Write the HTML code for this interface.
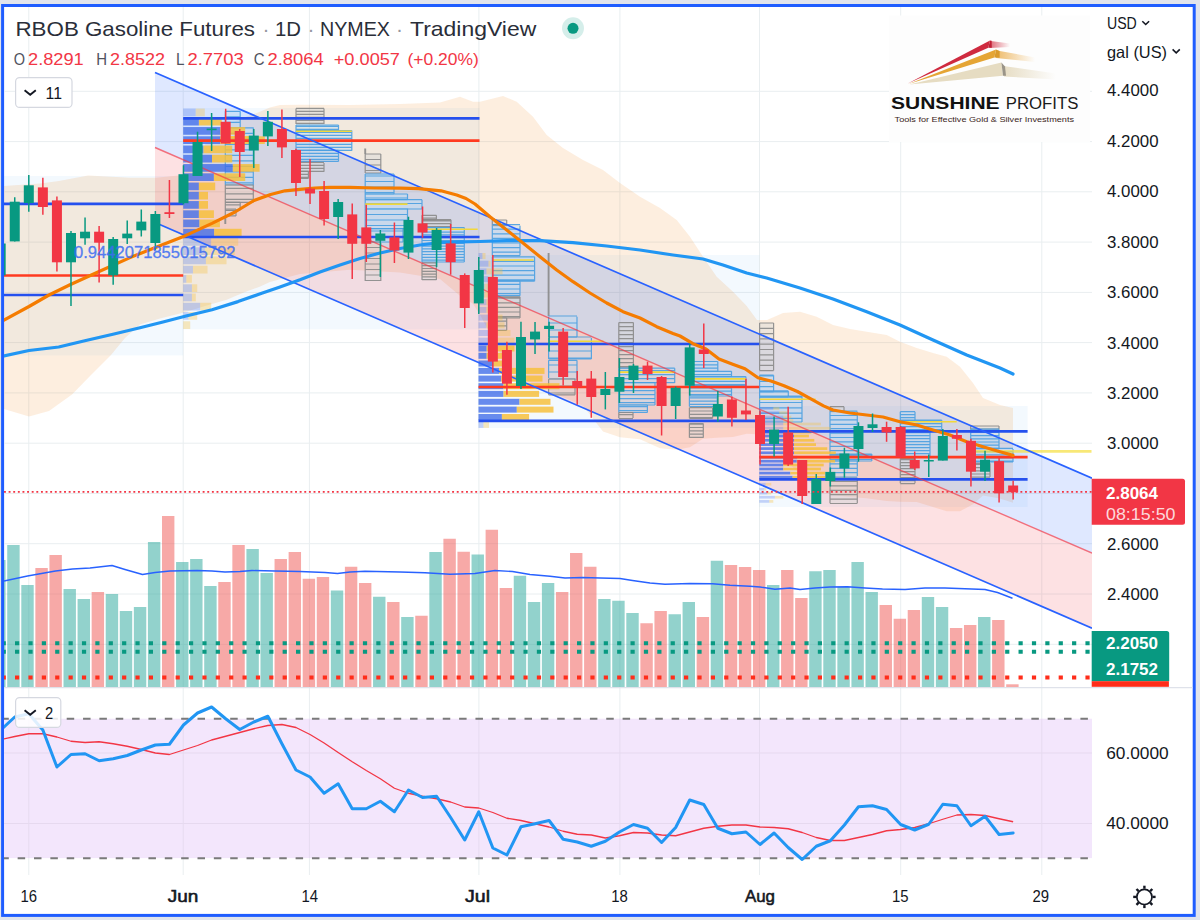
<!DOCTYPE html>
<html><head><meta charset="utf-8"><title>RBOB Gasoline Futures</title>
<style>
html,body{margin:0;padding:0;background:#e1e4ec;}
body{width:1200px;height:920px;overflow:hidden;position:relative;font-family:"Liberation Sans",sans-serif;}
svg{position:absolute;left:0;top:0;display:block}
text{font-family:"Liberation Sans",sans-serif;}
</style></head><body>
<svg width="1200" height="920" viewBox="0 0 1200 920" font-family="Liberation Sans, sans-serif">
<rect x="0" y="0" width="1200" height="920" fill="#e1e4ec"/>
<rect x="2.6" y="5.5" width="1191.6" height="909.9" fill="#ffffff" stroke="#1f5dff" stroke-width="3"/>
<defs>
<clipPath id="plot"><rect x="4" y="7" width="1088" height="680.5"/></clipPath>
<clipPath id="rsi"><rect x="4" y="688" width="1088" height="187"/></clipPath>
<linearGradient id="fadeR" x1="0" x2="1" y1="0" y2="0"><stop offset="0" stop-color="#d0283c" stop-opacity="0.7"/><stop offset="1" stop-color="#d0283c" stop-opacity="0"/></linearGradient>
<linearGradient id="fadeO" x1="0" x2="1" y1="0" y2="0"><stop offset="0" stop-color="#e9a53a" stop-opacity="0.75"/><stop offset="1" stop-color="#e9a53a" stop-opacity="0"/></linearGradient>
<linearGradient id="fadeC" x1="0" x2="1" y1="0" y2="0"><stop offset="0" stop-color="#e4d9bd" stop-opacity="0.9"/><stop offset="1" stop-color="#e4d9bd" stop-opacity="0"/></linearGradient>
</defs>
<line x1="28.8" y1="7" x2="28.8" y2="875" stroke="#e9eef0" stroke-width="1"/>
<line x1="183.2" y1="7" x2="183.2" y2="875" stroke="#e9eef0" stroke-width="1"/>
<line x1="309.4" y1="7" x2="309.4" y2="875" stroke="#e9eef0" stroke-width="1"/>
<line x1="478.9" y1="7" x2="478.9" y2="875" stroke="#e9eef0" stroke-width="1"/>
<line x1="619.9" y1="7" x2="619.9" y2="875" stroke="#e9eef0" stroke-width="1"/>
<line x1="759.5" y1="7" x2="759.5" y2="875" stroke="#e9eef0" stroke-width="1"/>
<line x1="900.7" y1="7" x2="900.7" y2="875" stroke="#e9eef0" stroke-width="1"/>
<line x1="1041.8" y1="7" x2="1041.8" y2="875" stroke="#e9eef0" stroke-width="1"/>
<line x1="4" y1="91.3" x2="1092" y2="91.3" stroke="#e9eef0" stroke-width="1"/>
<line x1="4" y1="141.6" x2="1092" y2="141.6" stroke="#e9eef0" stroke-width="1"/>
<line x1="4" y1="191.8" x2="1092" y2="191.8" stroke="#e9eef0" stroke-width="1"/>
<line x1="4" y1="242.1" x2="1092" y2="242.1" stroke="#e9eef0" stroke-width="1"/>
<line x1="4" y1="292.4" x2="1092" y2="292.4" stroke="#e9eef0" stroke-width="1"/>
<line x1="4" y1="342.6" x2="1092" y2="342.6" stroke="#e9eef0" stroke-width="1"/>
<line x1="4" y1="392.9" x2="1092" y2="392.9" stroke="#e9eef0" stroke-width="1"/>
<line x1="4" y1="443.2" x2="1092" y2="443.2" stroke="#e9eef0" stroke-width="1"/>
<line x1="4" y1="493.5" x2="1092" y2="493.5" stroke="#e9eef0" stroke-width="1"/>
<line x1="4" y1="543.7" x2="1092" y2="543.7" stroke="#e9eef0" stroke-width="1"/>
<line x1="4" y1="594" x2="1092" y2="594" stroke="#e9eef0" stroke-width="1"/>
<line x1="4" y1="644.3" x2="1092" y2="644.3" stroke="#e9eef0" stroke-width="1"/>
<line x1="4" y1="753" x2="1092" y2="753" stroke="#e9eef0" stroke-width="1"/>
<line x1="4" y1="823.5" x2="1092" y2="823.5" stroke="#e9eef0" stroke-width="1"/>
<g clip-path="url(#plot)">
<rect x="4" y="176" width="179.2" height="179.4" fill="#2196f3" fill-opacity="0.055"/>
<rect x="183.2" y="108" width="296.3" height="221.3" fill="#2196f3" fill-opacity="0.055"/>
<rect x="478.5" y="255" width="280.8" height="173" fill="#2196f3" fill-opacity="0.055"/>
<rect x="759.3" y="406" width="268.3" height="101" fill="#2196f3" fill-opacity="0.055"/>
<polygon points="4,186 40,183.5 59,181 88,175.4 130,177.7 156.5,177.7 183,175 195,158 210,138 225,126 240,119 256.7,113 270,107.5 280,105 300,104.7 350,105 400,104 440,102.5 460,96.7 473,101.7 480,101.7 503,96 516.7,101.7 533,116.7 546.7,135 563,148 583,160 603,170 620,183 640,196.7 660,208 676.7,220 690,236.7 703,256.7 716.7,276.7 733,291.7 746.7,306 757,320 767,320 783,313 800,311.7 816.7,316.7 833,325 850,329 866.7,331.7 886.7,335 900,341.7 916.7,348 933,353 946.7,356.7 960,366.7 973,383 983,398 1000,405 1013,408 1013,502.8 1000,498.4 983,495.4 973,504.27 960,511.32 946.7,511.36 933,507 916.7,502 900,501.7 886.7,501.05 866.7,498.3 850,497 833,495 816.7,487.63 800,474.18 783,457.68 767,440.03 757,434.2 746.7,433.78 733,437.02 716.7,437.76 703,438.85 690,447.15 676.7,449.64 660,448.15 640,439.3 620,437.2 603,431.57 583,405.68 563,397.02 546.7,389.07 533,384.04 516.7,374.25 503,358.11 480,314.77 473,303.86 460,295.78 440,278.9 400,272.4 350,269.8 300,273.9 280,279.17 270,281.93 259,287 245,292 226.7,299.8 205,306 183,312.8 160,318.5 140,324.5 125,338 111,355 91,375 72,394.5 49,411 29,416.5 4,409" fill="#f28c28" fill-opacity="0.15"/>
<polygon points="155,72.5 1092,478.13 1092,553.13 155,147.5" fill="#2962ff" fill-opacity="0.15"/>
<polygon points="155,147.5 1092,553.13 1092,628.13 155,222.5" fill="#f23645" fill-opacity="0.15"/>
<rect x="225.3" y="111.3" width="14.9" height="16.3" fill="#bcdcf5" fill-opacity="0.45"/>
<path d="M225.3 111.3H240.2M225.3 116.8H240.2M225.3 122.3H240.2M225.3 127.8H240.2M225.3 111.3V127.6M240.2 111.3V127.6" stroke="#4a9fe0" stroke-width="1.2" fill="none" stroke-opacity="0.9"/>
<rect x="225.3" y="127.6" width="28" height="57.4" fill="#bcdcf5" fill-opacity="0.45"/>
<path d="M225.3 127.8H253.3M225.3 133.3H253.3M225.3 138.8H253.3M225.3 144.3H253.3M225.3 149.8H253.3M225.3 155.3H253.3M225.3 160.8H253.3M225.3 166.3H253.3M225.3 171.8H253.3M225.3 177.3H253.3M225.3 182.8H253.3M225.3 185H253.3M225.3 127.6V185M253.3 127.6V185" stroke="#4a9fe0" stroke-width="1.2" fill="none" stroke-opacity="0.9"/>
<rect x="225.3" y="185" width="28" height="17.3" fill="#d8d8d8" fill-opacity="0.45"/>
<path d="M225.3 185H253.3M225.3 188.3H253.3M225.3 193.8H253.3M225.3 199.3H253.3M225.3 202.3H253.3M225.3 185V202.3M253.3 185V202.3" stroke="#8a8a8a" stroke-width="1.2" fill="none" stroke-opacity="0.9"/>
<rect x="225.3" y="202.3" width="14.9" height="6.7" fill="#d8d8d8" fill-opacity="0.45"/>
<path d="M225.3 202.3H240.2M225.3 204.8H240.2M225.3 210.3H240.2M225.3 202.3V209M240.2 202.3V209" stroke="#8a8a8a" stroke-width="1.2" fill="none" stroke-opacity="0.9"/>
<rect x="225.3" y="209" width="10.7" height="7" fill="#d8d8d8" fill-opacity="0.45"/>
<path d="M225.3 209H236M225.3 210.3H236M225.3 215.8H236M225.3 209V216M236 209V216" stroke="#8a8a8a" stroke-width="1.2" fill="none" stroke-opacity="0.9"/>
<path d="M225.3 216V224" stroke="#8a8a8a" stroke-width="1.9" fill="none" stroke-opacity="0.9"/>
<line x1="225.3" y1="137" x2="253.3" y2="137" stroke="#f2d83b" stroke-width="1.6"/>
<rect x="296" y="108.4" width="28" height="15.6" fill="#d8d8d8" fill-opacity="0.45"/>
<path d="M296 108.4H324M296 111.4H324M296 114.4H324M296 117.4H324M296 120.4H324M296 123.4H324M296 108.4V124M324 108.4V124" stroke="#8a8a8a" stroke-width="1.2" fill="none" stroke-opacity="0.9"/>
<rect x="296" y="125" width="42.5" height="5.6" fill="#bcdcf5" fill-opacity="0.45"/>
<path d="M296 125H338.5M296 126.4H338.5M296 129.4H338.5M296 130.6H338.5M296 125V130.6M338.5 125V130.6" stroke="#4a9fe0" stroke-width="1.2" fill="none" stroke-opacity="0.9"/>
<rect x="296" y="130.6" width="55.8" height="20.1" fill="#bcdcf5" fill-opacity="0.45"/>
<path d="M296 130.6H351.8M296 132.4H351.8M296 135.4H351.8M296 138.4H351.8M296 141.4H351.8M296 144.4H351.8M296 147.4H351.8M296 150.4H351.8M296 130.6V150.7M351.8 130.6V150.7" stroke="#4a9fe0" stroke-width="1.2" fill="none" stroke-opacity="0.9"/>
<rect x="296" y="150.7" width="42.5" height="10.7" fill="#bcdcf5" fill-opacity="0.45"/>
<path d="M296 150.4H338.5M296 153.4H338.5M296 156.4H338.5M296 159.4H338.5M296 161.4H338.5M296 150.7V161.4M338.5 150.7V161.4" stroke="#4a9fe0" stroke-width="1.2" fill="none" stroke-opacity="0.9"/>
<rect x="296" y="163" width="28" height="8.8" fill="#d8d8d8" fill-opacity="0.45"/>
<path d="M296 162.4H324M296 165.4H324M296 168.4H324M296 171.4H324M296 163V171.8M324 163V171.8" stroke="#8a8a8a" stroke-width="1.2" fill="none" stroke-opacity="0.9"/>
<rect x="296" y="171.8" width="12.4" height="6.7" fill="#d8d8d8" fill-opacity="0.45"/>
<path d="M296 171.4H308.4M296 174.4H308.4M296 177.4H308.4M296 178.5H308.4M296 171.8V178.5M308.4 171.8V178.5" stroke="#8a8a8a" stroke-width="1.2" fill="none" stroke-opacity="0.9"/>
<line x1="296" y1="131.2" x2="351.8" y2="131.2" stroke="#f2d83b" stroke-width="1.6"/>
<path d="M365.2 148.5V154" stroke="#8a8a8a" stroke-width="1.9" fill="none" stroke-opacity="0.9"/>
<rect x="365.2" y="154" width="15.6" height="19" fill="#d8d8d8" fill-opacity="0.45"/>
<path d="M365.2 154H380.8M365.2 159.5H380.8M365.2 165H380.8M365.2 170.5H380.8M365.2 173H380.8M365.2 154V173M380.8 154V173" stroke="#8a8a8a" stroke-width="1.2" fill="none" stroke-opacity="0.9"/>
<rect x="365.2" y="174" width="28.8" height="20" fill="#bcdcf5" fill-opacity="0.45"/>
<path d="M365.2 174H394M365.2 176H394M365.2 181.5H394M365.2 187H394M365.2 192.5H394M365.2 194H394M365.2 174V194M394 174V194" stroke="#4a9fe0" stroke-width="1.2" fill="none" stroke-opacity="0.9"/>
<rect x="365.2" y="194" width="42.3" height="5.7" fill="#bcdcf5" fill-opacity="0.45"/>
<path d="M365.2 194H407.5M365.2 198H407.5M365.2 199.7H407.5M365.2 194V199.7M407.5 194V199.7" stroke="#4a9fe0" stroke-width="1.2" fill="none" stroke-opacity="0.9"/>
<rect x="365.2" y="199.7" width="56.8" height="8.9" fill="#bcdcf5" fill-opacity="0.45"/>
<path d="M365.2 199.7H422M365.2 203.5H422M365.2 209H422M365.2 199.7V208.6M422 199.7V208.6" stroke="#4a9fe0" stroke-width="1.2" fill="none" stroke-opacity="0.9"/>
<rect x="365.2" y="208.6" width="42.3" height="20" fill="#bcdcf5" fill-opacity="0.45"/>
<path d="M365.2 209H407.5M365.2 214.5H407.5M365.2 220H407.5M365.2 225.5H407.5M365.2 228.6H407.5M365.2 208.6V228.6M407.5 208.6V228.6" stroke="#4a9fe0" stroke-width="1.2" fill="none" stroke-opacity="0.9"/>
<rect x="365.2" y="228.6" width="37.8" height="13.4" fill="#bcdcf5" fill-opacity="0.45"/>
<path d="M365.2 228.6H403M365.2 231H403M365.2 236.5H403M365.2 242H403M365.2 228.6V242M403 228.6V242" stroke="#4a9fe0" stroke-width="1.2" fill="none" stroke-opacity="0.9"/>
<rect x="365.2" y="243" width="15.6" height="38" fill="#d8d8d8" fill-opacity="0.45"/>
<path d="M365.2 242H380.8M365.2 247.5H380.8M365.2 253H380.8M365.2 258.5H380.8M365.2 264H380.8M365.2 269.5H380.8M365.2 275H380.8M365.2 280.5H380.8M365.2 243V281M380.8 243V281" stroke="#8a8a8a" stroke-width="1.2" fill="none" stroke-opacity="0.9"/>
<line x1="365.2" y1="204.1" x2="407.5" y2="204.1" stroke="#f2d83b" stroke-width="1.6"/>
<rect x="422" y="215.3" width="14.4" height="4.4" fill="#d8d8d8" fill-opacity="0.45"/>
<path d="M422 215.3H436.4M422 218.1H436.4M422 219.7H436.4M422 215.3V219.7M436.4 215.3V219.7" stroke="#8a8a8a" stroke-width="1.2" fill="none" stroke-opacity="0.9"/>
<rect x="422" y="219.7" width="29" height="7.8" fill="#d8d8d8" fill-opacity="0.45"/>
<path d="M422 219.7H451M422 220.9H451M422 223.7H451M422 226.5H451M422 227.5H451M422 219.7V227.5M451 219.7V227.5" stroke="#8a8a8a" stroke-width="1.2" fill="none" stroke-opacity="0.9"/>
<rect x="422" y="227.5" width="42.3" height="34.5" fill="#bcdcf5" fill-opacity="0.45"/>
<path d="M422 227.5H464.3M422 229.3H464.3M422 232.1H464.3M422 234.9H464.3M422 237.7H464.3M422 240.5H464.3M422 243.3H464.3M422 246.1H464.3M422 248.9H464.3M422 251.7H464.3M422 254.5H464.3M422 257.3H464.3M422 260.1H464.3M422 262H464.3M422 227.5V262M464.3 227.5V262" stroke="#4a9fe0" stroke-width="1.2" fill="none" stroke-opacity="0.9"/>
<rect x="422" y="263" width="14.4" height="17" fill="#d8d8d8" fill-opacity="0.45"/>
<path d="M422 262.9H436.4M422 265.7H436.4M422 268.5H436.4M422 271.3H436.4M422 274.1H436.4M422 276.9H436.4M422 279.7H436.4M422 263V280M436.4 263V280" stroke="#8a8a8a" stroke-width="1.2" fill="none" stroke-opacity="0.9"/>
<line x1="427.5" y1="229.3" x2="477.7" y2="229.3" stroke="#f2d83b" stroke-width="1.6"/>
<rect x="492.3" y="220" width="14.4" height="5.7" fill="#d8d8d8" fill-opacity="0.45"/>
<path d="M492.3 220H506.7M492.3 224.6H506.7M492.3 225.7H506.7M492.3 220V225.7M506.7 220V225.7" stroke="#8a8a8a" stroke-width="1.2" fill="none" stroke-opacity="0.9"/>
<rect x="492.3" y="225.7" width="27.7" height="29.9" fill="#bcdcf5" fill-opacity="0.45"/>
<path d="M492.3 224.6H520M492.3 229.2H520M492.3 233.8H520M492.3 238.4H520M492.3 243H520M492.3 247.6H520M492.3 252.2H520M492.3 255.6H520M492.3 225.7V255.6M520 225.7V255.6" stroke="#4a9fe0" stroke-width="1.2" fill="none" stroke-opacity="0.9"/>
<rect x="492.3" y="256.7" width="42.3" height="24.5" fill="#bcdcf5" fill-opacity="0.45"/>
<path d="M492.3 256.8H534.6M492.3 261.4H534.6M492.3 266H534.6M492.3 270.6H534.6M492.3 275.2H534.6M492.3 279.8H534.6M492.3 281.2H534.6M492.3 256.7V281.2M534.6 256.7V281.2" stroke="#4a9fe0" stroke-width="1.2" fill="none" stroke-opacity="0.9"/>
<rect x="492.3" y="281.2" width="27.7" height="14.5" fill="#bcdcf5" fill-opacity="0.45"/>
<path d="M492.3 281.2H520M492.3 284.4H520M492.3 289H520M492.3 293.6H520M492.3 295.7H520M492.3 281.2V295.7M520 281.2V295.7" stroke="#4a9fe0" stroke-width="1.2" fill="none" stroke-opacity="0.9"/>
<rect x="492.3" y="296.8" width="27.7" height="21.2" fill="#d8d8d8" fill-opacity="0.45"/>
<path d="M492.3 296.8H520M492.3 298.2H520M492.3 302.8H520M492.3 307.4H520M492.3 312H520M492.3 316.6H520M492.3 318H520M492.3 296.8V318M520 296.8V318" stroke="#8a8a8a" stroke-width="1.2" fill="none" stroke-opacity="0.9"/>
<rect x="492.3" y="318" width="14.4" height="12.2" fill="#d8d8d8" fill-opacity="0.45"/>
<path d="M492.3 318H506.7M492.3 321.2H506.7M492.3 325.8H506.7M492.3 330.4H506.7M492.3 318V330.2M506.7 318V330.2" stroke="#8a8a8a" stroke-width="1.2" fill="none" stroke-opacity="0.9"/>
<line x1="492.3" y1="260" x2="533.5" y2="260" stroke="#f2d83b" stroke-width="1.6"/>
<path d="M548.6 253V316" stroke="#8a8a8a" stroke-width="1.9" fill="none" stroke-opacity="0.9"/>
<rect x="548.6" y="316.8" width="28.4" height="20.1" fill="#bcdcf5" fill-opacity="0.45"/>
<path d="M548.6 316H577M548.6 323H577M548.6 330H577M548.6 337H577M548.6 316.8V336.9M577 316.8V336.9" stroke="#4a9fe0" stroke-width="1.2" fill="none" stroke-opacity="0.9"/>
<rect x="548.6" y="338" width="42.8" height="21" fill="#bcdcf5" fill-opacity="0.45"/>
<path d="M548.6 337H591.4M548.6 344H591.4M548.6 351H591.4M548.6 358H591.4M548.6 359H591.4M548.6 338V359M591.4 338V359" stroke="#4a9fe0" stroke-width="1.2" fill="none" stroke-opacity="0.9"/>
<rect x="548.6" y="360.3" width="28.4" height="17.7" fill="#bcdcf5" fill-opacity="0.45"/>
<path d="M548.6 360.3H577M548.6 365H577M548.6 372H577M548.6 379H577M548.6 360.3V378M577 360.3V378" stroke="#4a9fe0" stroke-width="1.2" fill="none" stroke-opacity="0.9"/>
<rect x="548.6" y="379.2" width="26.4" height="15.6" fill="#d8d8d8" fill-opacity="0.45"/>
<path d="M548.6 379H575M548.6 386H575M548.6 393H575M548.6 394.8H575M548.6 379.2V394.8M575 379.2V394.8" stroke="#8a8a8a" stroke-width="1.2" fill="none" stroke-opacity="0.9"/>
<line x1="548.6" y1="341.3" x2="603.6" y2="341.3" stroke="#f2d83b" stroke-width="1.6"/>
<rect x="618.8" y="322.6" width="14.6" height="45.4" fill="#d8d8d8" fill-opacity="0.45"/>
<path d="M618.8 322.6H633.4M618.8 326.6H633.4M618.8 330.6H633.4M618.8 334.6H633.4M618.8 338.6H633.4M618.8 342.6H633.4M618.8 346.6H633.4M618.8 350.6H633.4M618.8 354.6H633.4M618.8 358.6H633.4M618.8 362.6H633.4M618.8 366.6H633.4M618.8 368H633.4M618.8 322.6V368M633.4 322.6V368" stroke="#8a8a8a" stroke-width="1.2" fill="none" stroke-opacity="0.9"/>
<rect x="618.8" y="368.2" width="55.9" height="14.8" fill="#bcdcf5" fill-opacity="0.45"/>
<path d="M618.8 368.2H674.7M618.8 370.6H674.7M618.8 374.6H674.7M618.8 378.6H674.7M618.8 382.6H674.7M618.8 368.2V383M674.7 368.2V383" stroke="#4a9fe0" stroke-width="1.2" fill="none" stroke-opacity="0.9"/>
<rect x="618.8" y="383" width="36.2" height="22" fill="#bcdcf5" fill-opacity="0.45"/>
<path d="M618.8 382.6H655M618.8 386.6H655M618.8 390.6H655M618.8 394.6H655M618.8 398.6H655M618.8 402.6H655M618.8 405H655M618.8 383V405M655 383V405" stroke="#4a9fe0" stroke-width="1.2" fill="none" stroke-opacity="0.9"/>
<rect x="618.8" y="405" width="28.6" height="7.5" fill="#bcdcf5" fill-opacity="0.45"/>
<path d="M618.8 405H647.4M618.8 406.6H647.4M618.8 410.6H647.4M618.8 412.5H647.4M618.8 405V412.5M647.4 405V412.5" stroke="#4a9fe0" stroke-width="1.2" fill="none" stroke-opacity="0.9"/>
<rect x="618.8" y="412.5" width="14.2" height="5.5" fill="#d8d8d8" fill-opacity="0.45"/>
<path d="M618.8 412.5H633M618.8 414.6H633M618.8 418.6H633M618.8 412.5V418M633 412.5V418" stroke="#8a8a8a" stroke-width="1.2" fill="none" stroke-opacity="0.9"/>
<line x1="618.7" y1="372.1" x2="674.7" y2="372.1" stroke="#f2d83b" stroke-width="1.6"/>
<rect x="689.4" y="361.5" width="28.4" height="9.8" fill="#bcdcf5" fill-opacity="0.45"/>
<path d="M689.4 361.5H717.8M689.4 364.8H717.8M689.4 368.1H717.8M689.4 371.4H717.8M689.4 361.5V371.3M717.8 361.5V371.3" stroke="#4a9fe0" stroke-width="1.2" fill="none" stroke-opacity="0.9"/>
<rect x="689.4" y="371.3" width="42.1" height="5.2" fill="#bcdcf5" fill-opacity="0.45"/>
<path d="M689.4 371.4H731.5M689.4 374.7H731.5M689.4 376.5H731.5M689.4 371.3V376.5M731.5 371.3V376.5" stroke="#4a9fe0" stroke-width="1.2" fill="none" stroke-opacity="0.9"/>
<rect x="689.4" y="376.5" width="56.5" height="9.2" fill="#bcdcf5" fill-opacity="0.45"/>
<path d="M689.4 376.5H745.9M689.4 378H745.9M689.4 381.3H745.9M689.4 384.6H745.9M689.4 385.7H745.9M689.4 376.5V385.7M745.9 376.5V385.7" stroke="#4a9fe0" stroke-width="1.2" fill="none" stroke-opacity="0.9"/>
<rect x="689.4" y="388.3" width="42.1" height="7.7" fill="#bcdcf5" fill-opacity="0.45"/>
<path d="M689.4 387.9H731.5M689.4 391.2H731.5M689.4 394.5H731.5M689.4 396H731.5M689.4 388.3V396M731.5 388.3V396" stroke="#4a9fe0" stroke-width="1.2" fill="none" stroke-opacity="0.9"/>
<rect x="689.4" y="396" width="27.8" height="10.5" fill="#bcdcf5" fill-opacity="0.45"/>
<path d="M689.4 396H717.2M689.4 397.8H717.2M689.4 401.1H717.2M689.4 404.4H717.2M689.4 406.5H717.2M689.4 396V406.5M717.2 396V406.5" stroke="#4a9fe0" stroke-width="1.2" fill="none" stroke-opacity="0.9"/>
<rect x="689.4" y="407.8" width="23.2" height="10.5" fill="#d8d8d8" fill-opacity="0.45"/>
<path d="M689.4 407.7H712.6M689.4 411H712.6M689.4 414.3H712.6M689.4 417.6H712.6M689.4 418.3H712.6M689.4 407.8V418.3M712.6 407.8V418.3" stroke="#8a8a8a" stroke-width="1.2" fill="none" stroke-opacity="0.9"/>
<rect x="689.4" y="423.5" width="13.9" height="14.2" fill="#d8d8d8" fill-opacity="0.45"/>
<path d="M689.4 423.5H703.3M689.4 424.2H703.3M689.4 427.5H703.3M689.4 430.8H703.3M689.4 434.1H703.3M689.4 437.4H703.3M689.4 423.5V437.7M703.3 423.5V437.7" stroke="#8a8a8a" stroke-width="1.2" fill="none" stroke-opacity="0.9"/>
<line x1="695" y1="378.9" x2="745.9" y2="378.9" stroke="#f2d83b" stroke-width="1.6"/>
<rect x="759.6" y="323" width="14" height="47.6" fill="#d8d8d8" fill-opacity="0.45"/>
<path d="M759.6 323H773.6M759.6 328.3H773.6M759.6 333.6H773.6M759.6 338.9H773.6M759.6 344.2H773.6M759.6 349.5H773.6M759.6 354.8H773.6M759.6 360.1H773.6M759.6 365.4H773.6M759.6 370.7H773.6M759.6 323V370.6M773.6 323V370.6" stroke="#8a8a8a" stroke-width="1.2" fill="none" stroke-opacity="0.9"/>
<rect x="759.6" y="375.2" width="14" height="15.7" fill="#bcdcf5" fill-opacity="0.45"/>
<path d="M759.6 375.2H773.6M759.6 376H773.6M759.6 381.3H773.6M759.6 386.6H773.6M759.6 391.9H773.6M759.6 375.2V390.9M773.6 375.2V390.9" stroke="#4a9fe0" stroke-width="1.2" fill="none" stroke-opacity="0.9"/>
<rect x="759.6" y="390.9" width="28.7" height="5.1" fill="#bcdcf5" fill-opacity="0.45"/>
<path d="M759.6 390.9H788.3M759.6 391.9H788.3M759.6 397.2H788.3M759.6 390.9V396M788.3 390.9V396" stroke="#4a9fe0" stroke-width="1.2" fill="none" stroke-opacity="0.9"/>
<rect x="759.6" y="396" width="42.4" height="26" fill="#bcdcf5" fill-opacity="0.45"/>
<path d="M759.6 396H802M759.6 397.2H802M759.6 402.5H802M759.6 407.8H802M759.6 413.1H802M759.6 418.4H802M759.6 422H802M759.6 396V422M802 396V422" stroke="#4a9fe0" stroke-width="1.2" fill="none" stroke-opacity="0.9"/>
<line x1="759.6" y1="399.3" x2="815.6" y2="399.3" stroke="#f2d83b" stroke-width="1.6"/>
<rect x="830" y="406.7" width="14" height="5" fill="#d8d8d8" fill-opacity="0.45"/>
<path d="M830 406.7H844M830 411.1H844M830 411.7H844M830 406.7V411.7M844 406.7V411.7" stroke="#8a8a8a" stroke-width="1.2" fill="none" stroke-opacity="0.9"/>
<rect x="830" y="411.7" width="27.3" height="42.3" fill="#bcdcf5" fill-opacity="0.45"/>
<path d="M830 411.1H857.3M830 415.5H857.3M830 419.9H857.3M830 424.3H857.3M830 428.7H857.3M830 433.1H857.3M830 437.5H857.3M830 441.9H857.3M830 446.3H857.3M830 450.7H857.3M830 455.1H857.3M830 411.7V454M857.3 411.7V454" stroke="#4a9fe0" stroke-width="1.2" fill="none" stroke-opacity="0.9"/>
<rect x="830" y="454" width="41.8" height="7" fill="#bcdcf5" fill-opacity="0.45"/>
<path d="M830 454H871.8M830 455.1H871.8M830 459.5H871.8M830 461H871.8M830 454V461M871.8 454V461" stroke="#4a9fe0" stroke-width="1.2" fill="none" stroke-opacity="0.9"/>
<rect x="830" y="461" width="27.3" height="15" fill="#bcdcf5" fill-opacity="0.45"/>
<path d="M830 461H857.3M830 463.9H857.3M830 468.3H857.3M830 472.7H857.3M830 477.1H857.3M830 461V476M857.3 461V476" stroke="#4a9fe0" stroke-width="1.2" fill="none" stroke-opacity="0.9"/>
<rect x="830" y="478.3" width="27.3" height="25" fill="#d8d8d8" fill-opacity="0.45"/>
<path d="M830 478.3H857.3M830 481.5H857.3M830 485.9H857.3M830 490.3H857.3M830 494.7H857.3M830 499.1H857.3M830 503.5H857.3M830 478.3V503.3M857.3 478.3V503.3" stroke="#8a8a8a" stroke-width="1.2" fill="none" stroke-opacity="0.9"/>
<rect x="900.3" y="411.7" width="14.7" height="8.3" fill="#bcdcf5" fill-opacity="0.45"/>
<path d="M900.3 411.7H915M900.3 414.7H915M900.3 417.7H915M900.3 420.7H915M900.3 411.7V420M915 411.7V420" stroke="#4a9fe0" stroke-width="1.2" fill="none" stroke-opacity="0.9"/>
<rect x="900.3" y="420" width="41.4" height="10" fill="#bcdcf5" fill-opacity="0.45"/>
<path d="M900.3 420H941.7M900.3 420.7H941.7M900.3 423.7H941.7M900.3 426.7H941.7M900.3 429.7H941.7M900.3 420V430M941.7 420V430" stroke="#4a9fe0" stroke-width="1.2" fill="none" stroke-opacity="0.9"/>
<rect x="900.3" y="430" width="29.7" height="26.7" fill="#bcdcf5" fill-opacity="0.45"/>
<path d="M900.3 429.7H930M900.3 432.7H930M900.3 435.7H930M900.3 438.7H930M900.3 441.7H930M900.3 444.7H930M900.3 447.7H930M900.3 450.7H930M900.3 453.7H930M900.3 456.7H930M900.3 430V456.7M930 430V456.7" stroke="#4a9fe0" stroke-width="1.2" fill="none" stroke-opacity="0.9"/>
<rect x="900.3" y="458.3" width="14.7" height="25" fill="#d8d8d8" fill-opacity="0.45"/>
<path d="M900.3 458.3H915M900.3 459.7H915M900.3 462.7H915M900.3 465.7H915M900.3 468.7H915M900.3 471.7H915M900.3 474.7H915M900.3 477.7H915M900.3 480.7H915M900.3 483.7H915M900.3 458.3V483.3M915 458.3V483.3" stroke="#8a8a8a" stroke-width="1.2" fill="none" stroke-opacity="0.9"/>
<line x1="903" y1="421.7" x2="956.7" y2="421.7" stroke="#f2d83b" stroke-width="1.6"/>
<rect x="970.7" y="426" width="28.3" height="3.2" fill="#d8d8d8" fill-opacity="0.45"/>
<path d="M970.7 426H999M970.7 429.2H999M970.7 426V429.2M999 426V429.2" stroke="#8a8a8a" stroke-width="1.2" fill="none" stroke-opacity="0.9"/>
<rect x="970.7" y="429.2" width="28.3" height="19.8" fill="#bcdcf5" fill-opacity="0.45"/>
<path d="M970.7 429.2H999M970.7 432.4H999M970.7 435.6H999M970.7 438.8H999M970.7 442H999M970.7 445.2H999M970.7 448.4H999M970.7 449H999M970.7 429.2V449M999 429.2V449" stroke="#4a9fe0" stroke-width="1.2" fill="none" stroke-opacity="0.9"/>
<rect x="970.7" y="449" width="42.3" height="13" fill="#bcdcf5" fill-opacity="0.45"/>
<path d="M970.7 448.4H1013M970.7 451.6H1013M970.7 454.8H1013M970.7 458H1013M970.7 461.2H1013M970.7 462H1013M970.7 449V462M1013 449V462" stroke="#4a9fe0" stroke-width="1.2" fill="none" stroke-opacity="0.9"/>
<rect x="970.7" y="463.3" width="19.3" height="13.7" fill="#d8d8d8" fill-opacity="0.45"/>
<path d="M970.7 463.3H990M970.7 464.4H990M970.7 467.6H990M970.7 470.8H990M970.7 474H990M970.7 477.2H990M970.7 463.3V477M990 463.3V477" stroke="#8a8a8a" stroke-width="1.2" fill="none" stroke-opacity="0.9"/>
<rect x="183.2" y="108.55" width="12.5" height="7.7" fill="#3f6be8" fill-opacity="0.28"/>
<rect x="195.7" y="108.55" width="9.1" height="7.7" fill="#f7bf3a" fill-opacity="0.33"/>
<rect x="183.2" y="117.8" width="15.7" height="7.7" fill="#3f6be8" fill-opacity="0.78"/>
<rect x="198.9" y="117.8" width="22.8" height="7.7" fill="#f7bf3a" fill-opacity="0.8300000000000001"/>
<rect x="183.2" y="127.05" width="37.2" height="7.7" fill="#3f6be8" fill-opacity="0.78"/>
<rect x="220.4" y="127.05" width="24.8" height="7.7" fill="#f7bf3a" fill-opacity="0.8300000000000001"/>
<rect x="183.2" y="136.3" width="37" height="7.7" fill="#3f6be8" fill-opacity="0.78"/>
<rect x="220.2" y="136.3" width="44.6" height="7.7" fill="#f7bf3a" fill-opacity="0.8300000000000001"/>
<rect x="183.2" y="145.55" width="20.3" height="7.7" fill="#3f6be8" fill-opacity="0.78"/>
<rect x="203.5" y="145.55" width="28.7" height="7.7" fill="#f7bf3a" fill-opacity="0.8300000000000001"/>
<rect x="183.2" y="154.8" width="28.8" height="7.7" fill="#3f6be8" fill-opacity="0.78"/>
<rect x="212" y="154.8" width="20.2" height="7.7" fill="#f7bf3a" fill-opacity="0.8300000000000001"/>
<rect x="183.2" y="164.05" width="49.6" height="7.7" fill="#3f6be8" fill-opacity="0.78"/>
<rect x="232.8" y="164.05" width="26.8" height="7.7" fill="#f7bf3a" fill-opacity="0.8300000000000001"/>
<rect x="183.2" y="173.3" width="30.7" height="7.7" fill="#3f6be8" fill-opacity="0.78"/>
<rect x="213.9" y="173.3" width="31.3" height="7.7" fill="#f7bf3a" fill-opacity="0.8300000000000001"/>
<rect x="183.2" y="182.55" width="15.7" height="7.7" fill="#3f6be8" fill-opacity="0.78"/>
<rect x="198.9" y="182.55" width="16.3" height="7.7" fill="#f7bf3a" fill-opacity="0.8300000000000001"/>
<rect x="183.2" y="191.8" width="15.7" height="7.7" fill="#3f6be8" fill-opacity="0.78"/>
<rect x="198.9" y="191.8" width="9.1" height="7.7" fill="#f7bf3a" fill-opacity="0.8300000000000001"/>
<rect x="183.2" y="201.05" width="15.7" height="7.7" fill="#3f6be8" fill-opacity="0.78"/>
<rect x="198.9" y="201.05" width="9.1" height="7.7" fill="#f7bf3a" fill-opacity="0.8300000000000001"/>
<rect x="183.2" y="210.3" width="15.7" height="7.7" fill="#3f6be8" fill-opacity="0.78"/>
<rect x="198.9" y="210.3" width="15" height="7.7" fill="#f7bf3a" fill-opacity="0.8300000000000001"/>
<rect x="183.2" y="219.55" width="16.3" height="7.7" fill="#3f6be8" fill-opacity="0.78"/>
<rect x="199.5" y="219.55" width="20.4" height="7.7" fill="#f7bf3a" fill-opacity="0.8300000000000001"/>
<rect x="183.2" y="228.8" width="31" height="7.7" fill="#3f6be8" fill-opacity="0.78"/>
<rect x="214.2" y="228.8" width="27.4" height="7.7" fill="#f7bf3a" fill-opacity="0.8300000000000001"/>
<rect x="183.2" y="238.05" width="28" height="7.7" fill="#3f6be8" fill-opacity="0.28"/>
<rect x="211.2" y="238.05" width="27" height="7.7" fill="#f7bf3a" fill-opacity="0.33"/>
<rect x="183.2" y="247.3" width="21.7" height="7.7" fill="#3f6be8" fill-opacity="0.28"/>
<rect x="204.9" y="247.3" width="29.9" height="7.7" fill="#f7bf3a" fill-opacity="0.33"/>
<rect x="183.2" y="256.55" width="22.7" height="7.7" fill="#3f6be8" fill-opacity="0.28"/>
<rect x="205.9" y="256.55" width="20.6" height="7.7" fill="#f7bf3a" fill-opacity="0.33"/>
<rect x="183.2" y="265.8" width="9.75" height="7.7" fill="#3f6be8" fill-opacity="0.28"/>
<rect x="192.95" y="265.8" width="14.55" height="7.7" fill="#f7bf3a" fill-opacity="0.33"/>
<rect x="183.2" y="275.05" width="3.2" height="7.7" fill="#3f6be8" fill-opacity="0.28"/>
<rect x="186.4" y="275.05" width="5.5" height="7.7" fill="#f7bf3a" fill-opacity="0.33"/>
<rect x="183.2" y="284.3" width="8.7" height="7.7" fill="#3f6be8" fill-opacity="0.28"/>
<rect x="191.9" y="284.3" width="5.3" height="7.7" fill="#f7bf3a" fill-opacity="0.33"/>
<rect x="183.2" y="293.55" width="8.7" height="7.7" fill="#3f6be8" fill-opacity="0.28"/>
<rect x="191.9" y="293.55" width="3.9" height="7.7" fill="#f7bf3a" fill-opacity="0.33"/>
<rect x="183.2" y="302.8" width="17" height="7.7" fill="#3f6be8" fill-opacity="0.28"/>
<rect x="200.2" y="302.8" width="11" height="7.7" fill="#f7bf3a" fill-opacity="0.33"/>
<rect x="183.2" y="312.05" width="5.4" height="7.7" fill="#3f6be8" fill-opacity="0.28"/>
<rect x="188.6" y="312.05" width="8.6" height="7.7" fill="#f7bf3a" fill-opacity="0.33"/>
<rect x="183.2" y="321.3" width="7" height="7.7" fill="#f7bf3a" fill-opacity="0.33"/>
<rect x="478.5" y="253" width="4" height="6" fill="#3f6be8" fill-opacity="0.28"/>
<rect x="482.5" y="253" width="3" height="6" fill="#f7bf3a" fill-opacity="0.33"/>
<rect x="478.5" y="260.7" width="10" height="6" fill="#3f6be8" fill-opacity="0.28"/>
<rect x="488.5" y="260.7" width="2" height="6" fill="#f7bf3a" fill-opacity="0.33"/>
<rect x="478.5" y="268.4" width="8" height="6" fill="#3f6be8" fill-opacity="0.28"/>
<rect x="486.5" y="268.4" width="16" height="6" fill="#f7bf3a" fill-opacity="0.33"/>
<rect x="478.5" y="276.1" width="10" height="6" fill="#3f6be8" fill-opacity="0.28"/>
<rect x="488.5" y="276.1" width="8" height="6" fill="#f7bf3a" fill-opacity="0.33"/>
<rect x="478.5" y="283.8" width="6" height="6" fill="#3f6be8" fill-opacity="0.28"/>
<rect x="484.5" y="283.8" width="4" height="6" fill="#f7bf3a" fill-opacity="0.33"/>
<rect x="478.5" y="291.5" width="6" height="6" fill="#3f6be8" fill-opacity="0.28"/>
<rect x="484.5" y="291.5" width="6" height="6" fill="#f7bf3a" fill-opacity="0.33"/>
<rect x="478.5" y="299.2" width="8" height="6" fill="#3f6be8" fill-opacity="0.28"/>
<rect x="486.5" y="299.2" width="6" height="6" fill="#f7bf3a" fill-opacity="0.33"/>
<rect x="478.5" y="306.9" width="8" height="6" fill="#3f6be8" fill-opacity="0.28"/>
<rect x="486.5" y="306.9" width="12" height="6" fill="#f7bf3a" fill-opacity="0.33"/>
<rect x="478.5" y="314.6" width="10" height="6" fill="#3f6be8" fill-opacity="0.28"/>
<rect x="488.5" y="314.6" width="14" height="6" fill="#f7bf3a" fill-opacity="0.33"/>
<rect x="478.5" y="322.3" width="8" height="6" fill="#3f6be8" fill-opacity="0.28"/>
<rect x="486.5" y="322.3" width="18" height="6" fill="#f7bf3a" fill-opacity="0.33"/>
<rect x="478.5" y="330" width="12" height="6" fill="#3f6be8" fill-opacity="0.28"/>
<rect x="490.5" y="330" width="20" height="6" fill="#f7bf3a" fill-opacity="0.33"/>
<rect x="478.5" y="337.7" width="10" height="6" fill="#3f6be8" fill-opacity="0.28"/>
<rect x="488.5" y="337.7" width="26" height="6" fill="#f7bf3a" fill-opacity="0.33"/>
<rect x="478.5" y="345.5" width="8.2" height="6" fill="#3f6be8" fill-opacity="0.78"/>
<rect x="486.7" y="345.5" width="27.8" height="6" fill="#f7bf3a" fill-opacity="0.8300000000000001"/>
<rect x="478.5" y="352.8" width="8.2" height="6" fill="#3f6be8" fill-opacity="0.78"/>
<rect x="486.7" y="352.8" width="16.8" height="6" fill="#f7bf3a" fill-opacity="0.8300000000000001"/>
<rect x="478.5" y="360.5" width="15" height="6" fill="#3f6be8" fill-opacity="0.78"/>
<rect x="493.5" y="360.5" width="15" height="6" fill="#f7bf3a" fill-opacity="0.8300000000000001"/>
<rect x="478.5" y="367.9" width="20.5" height="6" fill="#3f6be8" fill-opacity="0.78"/>
<rect x="499" y="367.9" width="45.5" height="6" fill="#f7bf3a" fill-opacity="0.8300000000000001"/>
<rect x="478.5" y="375.6" width="22.7" height="6" fill="#3f6be8" fill-opacity="0.78"/>
<rect x="501.2" y="375.6" width="41.3" height="6" fill="#f7bf3a" fill-opacity="0.8300000000000001"/>
<rect x="478.5" y="383.2" width="25" height="6" fill="#3f6be8" fill-opacity="0.78"/>
<rect x="503.5" y="383.2" width="56" height="6" fill="#f7bf3a" fill-opacity="0.8300000000000001"/>
<rect x="478.5" y="390.9" width="25" height="6" fill="#3f6be8" fill-opacity="0.78"/>
<rect x="503.5" y="390.9" width="35.6" height="6" fill="#f7bf3a" fill-opacity="0.8300000000000001"/>
<rect x="478.5" y="398.8" width="41" height="6" fill="#3f6be8" fill-opacity="0.78"/>
<rect x="519.5" y="398.8" width="31" height="6" fill="#f7bf3a" fill-opacity="0.8300000000000001"/>
<rect x="478.5" y="406.6" width="38.3" height="6" fill="#3f6be8" fill-opacity="0.78"/>
<rect x="516.8" y="406.6" width="36.7" height="6" fill="#f7bf3a" fill-opacity="0.8300000000000001"/>
<rect x="478.5" y="414" width="23.4" height="6" fill="#3f6be8" fill-opacity="0.78"/>
<rect x="501.9" y="414" width="27.2" height="6" fill="#f7bf3a" fill-opacity="0.8300000000000001"/>
<rect x="478.5" y="421.9" width="5" height="6" fill="#3f6be8" fill-opacity="0.28"/>
<rect x="483.5" y="421.9" width="5.5" height="6" fill="#f7bf3a" fill-opacity="0.33"/>
<rect x="759.3" y="407.15" width="14" height="2.7" fill="#3f6be8" fill-opacity="0.28"/>
<rect x="773.3" y="407.15" width="6" height="2.7" fill="#f7bf3a" fill-opacity="0.33"/>
<rect x="759.3" y="411.35" width="20" height="2.7" fill="#3f6be8" fill-opacity="0.28"/>
<rect x="779.3" y="411.35" width="8" height="2.7" fill="#f7bf3a" fill-opacity="0.33"/>
<rect x="759.3" y="415.65" width="24" height="2.7" fill="#3f6be8" fill-opacity="0.28"/>
<rect x="783.3" y="415.65" width="8" height="2.7" fill="#f7bf3a" fill-opacity="0.33"/>
<rect x="759.3" y="419.15" width="24" height="2.7" fill="#3f6be8" fill-opacity="0.28"/>
<rect x="783.3" y="419.15" width="10" height="2.7" fill="#f7bf3a" fill-opacity="0.33"/>
<rect x="759.3" y="422.65" width="24" height="2.7" fill="#3f6be8" fill-opacity="0.28"/>
<rect x="783.3" y="422.65" width="37.6" height="2.7" fill="#f7bf3a" fill-opacity="0.33"/>
<rect x="759.3" y="426.85" width="24" height="2.7" fill="#3f6be8" fill-opacity="0.28"/>
<rect x="783.3" y="426.85" width="47.5" height="2.7" fill="#f7bf3a" fill-opacity="0.33"/>
<rect x="759.3" y="430.85" width="30" height="2.7" fill="#3f6be8" fill-opacity="0.78"/>
<rect x="789.3" y="430.85" width="22" height="2.7" fill="#f7bf3a" fill-opacity="0.8300000000000001"/>
<rect x="759.3" y="434.65" width="34.7" height="2.7" fill="#3f6be8" fill-opacity="0.78"/>
<rect x="794" y="434.65" width="14.9" height="2.7" fill="#f7bf3a" fill-opacity="0.8300000000000001"/>
<rect x="759.3" y="438.95" width="34.7" height="2.7" fill="#3f6be8" fill-opacity="0.78"/>
<rect x="794" y="438.95" width="20.3" height="2.7" fill="#f7bf3a" fill-opacity="0.8300000000000001"/>
<rect x="759.3" y="443.25" width="34.7" height="2.7" fill="#3f6be8" fill-opacity="0.78"/>
<rect x="794" y="443.25" width="22" height="2.7" fill="#f7bf3a" fill-opacity="0.8300000000000001"/>
<rect x="759.3" y="447.25" width="34.7" height="2.7" fill="#3f6be8" fill-opacity="0.78"/>
<rect x="794" y="447.25" width="33.3" height="2.7" fill="#f7bf3a" fill-opacity="0.8300000000000001"/>
<rect x="759.3" y="451.45" width="34.7" height="2.7" fill="#3f6be8" fill-opacity="0.78"/>
<rect x="794" y="451.45" width="41.8" height="2.7" fill="#f7bf3a" fill-opacity="0.8300000000000001"/>
<rect x="759.3" y="455.85" width="38" height="2.7" fill="#3f6be8" fill-opacity="0.78"/>
<rect x="797.3" y="455.85" width="47" height="2.7" fill="#f7bf3a" fill-opacity="0.8300000000000001"/>
<rect x="759.3" y="459.85" width="37.5" height="2.7" fill="#3f6be8" fill-opacity="0.78"/>
<rect x="796.8" y="459.85" width="38.3" height="2.7" fill="#f7bf3a" fill-opacity="0.8300000000000001"/>
<rect x="759.3" y="463.65" width="24" height="2.7" fill="#3f6be8" fill-opacity="0.78"/>
<rect x="783.3" y="463.65" width="40.4" height="2.7" fill="#f7bf3a" fill-opacity="0.8300000000000001"/>
<rect x="759.3" y="467.65" width="24" height="2.7" fill="#3f6be8" fill-opacity="0.78"/>
<rect x="783.3" y="467.65" width="37.6" height="2.7" fill="#f7bf3a" fill-opacity="0.8300000000000001"/>
<rect x="759.3" y="471.75" width="31" height="2.7" fill="#3f6be8" fill-opacity="0.78"/>
<rect x="790.3" y="471.75" width="34.9" height="2.7" fill="#f7bf3a" fill-opacity="0.8300000000000001"/>
<rect x="759.3" y="475.85" width="33.3" height="2.7" fill="#3f6be8" fill-opacity="0.78"/>
<rect x="792.6" y="475.85" width="32.6" height="2.7" fill="#f7bf3a" fill-opacity="0.8300000000000001"/>
<rect x="759.3" y="482.85" width="6.4" height="2.7" fill="#3f6be8" fill-opacity="0.28"/>
<rect x="765.7" y="482.85" width="5.6" height="2.7" fill="#f7bf3a" fill-opacity="0.33"/>
<rect x="759.3" y="487.85" width="5" height="2.7" fill="#3f6be8" fill-opacity="0.28"/>
<rect x="764.3" y="487.85" width="2" height="2.7" fill="#f7bf3a" fill-opacity="0.33"/>
<rect x="759.3" y="491.85" width="8" height="2.7" fill="#3f6be8" fill-opacity="0.28"/>
<rect x="767.3" y="491.85" width="4" height="2.7" fill="#f7bf3a" fill-opacity="0.33"/>
<rect x="759.3" y="495.85" width="15.6" height="2.7" fill="#3f6be8" fill-opacity="0.28"/>
<rect x="774.9" y="495.85" width="8.4" height="2.7" fill="#f7bf3a" fill-opacity="0.33"/>
<rect x="759.3" y="500.05" width="10" height="2.7" fill="#3f6be8" fill-opacity="0.28"/>
<rect x="769.3" y="500.05" width="4" height="2.7" fill="#f7bf3a" fill-opacity="0.33"/>
<line x1="975.8" y1="451.4" x2="1091.5" y2="451.4" stroke="#f5e04a" stroke-opacity="0.75" stroke-width="2.6"/>
<line x1="4" y1="203.8" x2="183.2" y2="203.8" stroke="#2550ee" stroke-width="2.7"/>
<line x1="4" y1="295" x2="183.2" y2="295" stroke="#2550ee" stroke-width="2.7"/>
<line x1="4" y1="275.5" x2="183.2" y2="275.5" stroke="#ff3a20" stroke-width="2.7"/>
<line x1="183.2" y1="118.4" x2="479.5" y2="118.4" stroke="#2550ee" stroke-width="2.7"/>
<line x1="183.2" y1="237" x2="479.5" y2="237" stroke="#2550ee" stroke-width="2.7"/>
<line x1="183.2" y1="140.7" x2="479.5" y2="140.7" stroke="#ff3a20" stroke-width="2.7"/>
<line x1="478.5" y1="344" x2="759.3" y2="344" stroke="#2550ee" stroke-width="2.7"/>
<line x1="478.5" y1="420.8" x2="759.3" y2="420.8" stroke="#2550ee" stroke-width="2.7"/>
<line x1="478.5" y1="387" x2="759.3" y2="387" stroke="#ff3a20" stroke-width="2.7"/>
<line x1="759.3" y1="431.3" x2="1027.6" y2="431.3" stroke="#2550ee" stroke-width="2.7"/>
<line x1="759.3" y1="479.4" x2="1027.6" y2="479.4" stroke="#2550ee" stroke-width="2.7"/>
<line x1="759.3" y1="457.2" x2="1027.6" y2="457.2" stroke="#ff3a20" stroke-width="2.7"/>
<line x1="155" y1="72.5" x2="1092" y2="478.13" stroke="#2962ff" stroke-width="1.7"/>
<line x1="155" y1="222.5" x2="1092" y2="628.13" stroke="#2962ff" stroke-width="1.7"/>
<line x1="155" y1="147.5" x2="1092" y2="553.13" stroke="#f23645" stroke-opacity="0.68" stroke-width="1.4"/>
<rect x="-6.84" y="560" width="12.4" height="127.2" fill="#26a69a" fill-opacity="0.5"/>
<rect x="7.23" y="545" width="12.4" height="142.2" fill="#26a69a" fill-opacity="0.5"/>
<rect x="21.3" y="585" width="12.4" height="102.2" fill="#26a69a" fill-opacity="0.5"/>
<rect x="35.37" y="568" width="12.4" height="119.2" fill="#ef5350" fill-opacity="0.5"/>
<rect x="49.44" y="555" width="12.4" height="132.2" fill="#ef5350" fill-opacity="0.5"/>
<rect x="63.51" y="589" width="12.4" height="98.2" fill="#26a69a" fill-opacity="0.5"/>
<rect x="77.58" y="599" width="12.4" height="88.2" fill="#26a69a" fill-opacity="0.5"/>
<rect x="91.65" y="592" width="12.4" height="95.2" fill="#ef5350" fill-opacity="0.5"/>
<rect x="105.72" y="594" width="12.4" height="93.2" fill="#26a69a" fill-opacity="0.5"/>
<rect x="119.79" y="611" width="12.4" height="76.2" fill="#26a69a" fill-opacity="0.5"/>
<rect x="133.86" y="607" width="12.4" height="80.2" fill="#26a69a" fill-opacity="0.5"/>
<rect x="147.93" y="542" width="12.4" height="145.2" fill="#26a69a" fill-opacity="0.5"/>
<rect x="162" y="516" width="12.4" height="171.2" fill="#ef5350" fill-opacity="0.5"/>
<rect x="176.07" y="562" width="12.4" height="125.2" fill="#26a69a" fill-opacity="0.5"/>
<rect x="190.14" y="559" width="12.4" height="128.2" fill="#26a69a" fill-opacity="0.5"/>
<rect x="204.21" y="586" width="12.4" height="101.2" fill="#26a69a" fill-opacity="0.5"/>
<rect x="218.28" y="582" width="12.4" height="105.2" fill="#ef5350" fill-opacity="0.5"/>
<rect x="232.35" y="545" width="12.4" height="142.2" fill="#ef5350" fill-opacity="0.5"/>
<rect x="246.42" y="549" width="12.4" height="138.2" fill="#26a69a" fill-opacity="0.5"/>
<rect x="260.49" y="573" width="12.4" height="114.2" fill="#26a69a" fill-opacity="0.5"/>
<rect x="274.56" y="559" width="12.4" height="128.2" fill="#ef5350" fill-opacity="0.5"/>
<rect x="288.63" y="552" width="12.4" height="135.2" fill="#ef5350" fill-opacity="0.5"/>
<rect x="302.7" y="578.75" width="12.4" height="108.45" fill="#ef5350" fill-opacity="0.5"/>
<rect x="316.77" y="577" width="12.4" height="110.2" fill="#ef5350" fill-opacity="0.5"/>
<rect x="330.84" y="590.5" width="12.4" height="96.7" fill="#26a69a" fill-opacity="0.5"/>
<rect x="344.91" y="566.75" width="12.4" height="120.45" fill="#ef5350" fill-opacity="0.5"/>
<rect x="358.98" y="583" width="12.4" height="104.2" fill="#ef5350" fill-opacity="0.5"/>
<rect x="373.05" y="596.75" width="12.4" height="90.45" fill="#26a69a" fill-opacity="0.5"/>
<rect x="387.12" y="602" width="12.4" height="85.2" fill="#ef5350" fill-opacity="0.5"/>
<rect x="401.19" y="617" width="12.4" height="70.2" fill="#26a69a" fill-opacity="0.5"/>
<rect x="415.26" y="615.75" width="12.4" height="71.45" fill="#ef5350" fill-opacity="0.5"/>
<rect x="429.33" y="552" width="12.4" height="135.2" fill="#26a69a" fill-opacity="0.5"/>
<rect x="443.4" y="538.75" width="12.4" height="148.45" fill="#ef5350" fill-opacity="0.5"/>
<rect x="457.47" y="551.75" width="12.4" height="135.45" fill="#ef5350" fill-opacity="0.5"/>
<rect x="471.54" y="554.5" width="12.4" height="132.7" fill="#26a69a" fill-opacity="0.5"/>
<rect x="485.61" y="529.75" width="12.4" height="157.45" fill="#ef5350" fill-opacity="0.5"/>
<rect x="499.68" y="588" width="12.4" height="99.2" fill="#ef5350" fill-opacity="0.5"/>
<rect x="513.75" y="575.75" width="12.4" height="111.45" fill="#26a69a" fill-opacity="0.5"/>
<rect x="527.82" y="602" width="12.4" height="85.2" fill="#26a69a" fill-opacity="0.5"/>
<rect x="541.89" y="583" width="12.4" height="104.2" fill="#26a69a" fill-opacity="0.5"/>
<rect x="555.96" y="592" width="12.4" height="95.2" fill="#ef5350" fill-opacity="0.5"/>
<rect x="570.03" y="553" width="12.4" height="134.2" fill="#ef5350" fill-opacity="0.5"/>
<rect x="584.1" y="566.75" width="12.4" height="120.45" fill="#ef5350" fill-opacity="0.5"/>
<rect x="598.17" y="599" width="12.4" height="88.2" fill="#26a69a" fill-opacity="0.5"/>
<rect x="612.24" y="600.75" width="12.4" height="86.45" fill="#26a69a" fill-opacity="0.5"/>
<rect x="626.31" y="613" width="12.4" height="74.2" fill="#26a69a" fill-opacity="0.5"/>
<rect x="640.38" y="623.25" width="12.4" height="63.95" fill="#ef5350" fill-opacity="0.5"/>
<rect x="654.45" y="611" width="12.4" height="76.2" fill="#ef5350" fill-opacity="0.5"/>
<rect x="668.52" y="614.25" width="12.4" height="72.95" fill="#26a69a" fill-opacity="0.5"/>
<rect x="682.59" y="602" width="12.4" height="85.2" fill="#26a69a" fill-opacity="0.5"/>
<rect x="696.66" y="617" width="12.4" height="70.2" fill="#ef5350" fill-opacity="0.5"/>
<rect x="710.73" y="560.75" width="12.4" height="126.45" fill="#26a69a" fill-opacity="0.5"/>
<rect x="724.8" y="565" width="12.4" height="122.2" fill="#ef5350" fill-opacity="0.5"/>
<rect x="738.87" y="567" width="12.4" height="120.2" fill="#ef5350" fill-opacity="0.5"/>
<rect x="752.94" y="570" width="12.4" height="117.2" fill="#ef5350" fill-opacity="0.5"/>
<rect x="767.01" y="585" width="12.4" height="102.2" fill="#26a69a" fill-opacity="0.5"/>
<rect x="781.08" y="570" width="12.4" height="117.2" fill="#ef5350" fill-opacity="0.5"/>
<rect x="795.15" y="598" width="12.4" height="89.2" fill="#ef5350" fill-opacity="0.5"/>
<rect x="809.22" y="571.25" width="12.4" height="115.95" fill="#26a69a" fill-opacity="0.5"/>
<rect x="823.29" y="570" width="12.4" height="117.2" fill="#26a69a" fill-opacity="0.5"/>
<rect x="837.36" y="587" width="12.4" height="100.2" fill="#26a69a" fill-opacity="0.5"/>
<rect x="851.43" y="562" width="12.4" height="125.2" fill="#26a69a" fill-opacity="0.5"/>
<rect x="865.5" y="592" width="12.4" height="95.2" fill="#26a69a" fill-opacity="0.5"/>
<rect x="879.57" y="605" width="12.4" height="82.2" fill="#ef5350" fill-opacity="0.5"/>
<rect x="893.64" y="618.75" width="12.4" height="68.45" fill="#ef5350" fill-opacity="0.5"/>
<rect x="907.71" y="610" width="12.4" height="77.2" fill="#ef5350" fill-opacity="0.5"/>
<rect x="921.78" y="597" width="12.4" height="90.2" fill="#26a69a" fill-opacity="0.5"/>
<rect x="935.85" y="607" width="12.4" height="80.2" fill="#26a69a" fill-opacity="0.5"/>
<rect x="949.92" y="628" width="12.4" height="59.2" fill="#ef5350" fill-opacity="0.5"/>
<rect x="963.99" y="625" width="12.4" height="62.2" fill="#ef5350" fill-opacity="0.5"/>
<rect x="978.06" y="617" width="12.4" height="70.2" fill="#26a69a" fill-opacity="0.5"/>
<rect x="992.13" y="620" width="12.4" height="67.2" fill="#ef5350" fill-opacity="0.5"/>
<rect x="1006.2" y="684.3" width="12.4" height="2.9" fill="#ef5350" fill-opacity="0.5"/>
<polyline points="4,581 27.5,576 55.5,571 72.5,569 90,568 112,565.5 125,569.5 142.5,574.5 155,572.5 170,571 197,570.5 212,571 225,572 240,571.5 252,570.5 275,571 300,571.5 325,572.5 337.5,573.5 350,572 365,571.25 400,572 425,572.75 450,574.25 475,573.5 495,570.5 512.5,571.5 530,574.5 550,576.25 565,578 582.5,577.5 600,578 620,578.5 632.5,580.5 650,583 665,584.25 690,583.5 712.5,583.75 730,585.25 750,586.25 760,587 775,589.25 790,588 800,589.5 815,588 830,587 847.5,586.75 865,588 882.5,589 905,589.5 925,588 945,588 965,588.75 985,589.5 997.5,592.5 1012.5,598.25" fill="none" stroke="#2962ff" stroke-width="1.4" stroke-linejoin="round"/>
<polyline points="4,356 29,350.5 58.7,347 84.8,340.7 114,334 140,327.7 163,322 186,316 212,309.8 238,301.6 261,293.5 280,287 300,279.8 320,272 340,265 360,258.5 380,253 400,248.5 420,245 440,242.7 460,241.8 480,241.5 506.7,240.7 540,240.7 573,242.7 606.7,246 640,250 673,255 703,259 723,265 746.7,273 766.7,278 800,288 833,299 866.7,311.7 900,325 933,340 966.7,355 1000,368 1013,374" fill="none" stroke="#2196f3" stroke-width="3.2" stroke-linejoin="round" stroke-linecap="round"/>
<polyline points="4,320 29,306.5 49,295 70,284.7 98,272 130,257.6 163,244.5 186,235.4 212,223.4 235,212 254,200.5 270.6,194.5 285,190.8 300,189.3 315,188 329.5,187.4 350,187.4 374,188 400,188.2 418.6,188.6 441,190.8 456.7,195 466,198.5 475,204 490,216.7 506.7,230 523,243 540,256.7 556.7,270 573,281.7 590,293 606.7,303 623,311.7 640,318 656.7,326.7 673,333.5 680,336 693,343.7 706,349 719,359 732,364 745,368.7 758,377.8 771,381 784,385.7 797.4,391.5 810.4,398.7 823.5,405.9 833,410 850,413 866.7,415 883,417 900,421.7 916.7,425 933,430 950,435 966.7,441.7 983,446.7 1000,451.7 1013,455.4" fill="none" stroke="#f57c00" stroke-width="3.2" stroke-linejoin="round" stroke-linecap="round"/>
<line x1="0.68" y1="240" x2="0.68" y2="275.3" stroke="#089981" stroke-width="1.5"/>
<rect x="-4.32" y="243.5" width="10" height="31.8" fill="#089981"/>
<line x1="14.74" y1="197.3" x2="14.74" y2="241.4" stroke="#089981" stroke-width="1.5"/>
<rect x="9.74" y="201.7" width="10" height="39.7" fill="#089981"/>
<line x1="28.8" y1="175" x2="28.8" y2="211.7" stroke="#089981" stroke-width="1.5"/>
<rect x="23.8" y="185.3" width="10" height="17.7" fill="#089981"/>
<line x1="42.86" y1="177.7" x2="42.86" y2="214.8" stroke="#f23645" stroke-width="1.5"/>
<rect x="37.86" y="187.4" width="10" height="19.6" fill="#f23645"/>
<line x1="56.92" y1="196.5" x2="56.92" y2="271.4" stroke="#f23645" stroke-width="1.5"/>
<rect x="51.92" y="200.4" width="10" height="61.9" fill="#f23645"/>
<line x1="70.99" y1="231" x2="70.99" y2="306" stroke="#089981" stroke-width="1.5"/>
<rect x="65.99" y="233" width="10" height="29.3" fill="#089981"/>
<line x1="85.05" y1="217.4" x2="85.05" y2="244.8" stroke="#089981" stroke-width="1.5"/>
<rect x="80.05" y="231.7" width="10" height="6.6" fill="#089981"/>
<line x1="99.11" y1="226" x2="99.11" y2="282.6" stroke="#f23645" stroke-width="1.5"/>
<rect x="94.11" y="231.7" width="10" height="11" fill="#f23645"/>
<line x1="113.17" y1="237" x2="113.17" y2="284.7" stroke="#089981" stroke-width="1.5"/>
<rect x="108.17" y="239" width="10" height="36.3" fill="#089981"/>
<line x1="127.23" y1="220.5" x2="127.23" y2="244" stroke="#089981" stroke-width="1.5"/>
<rect x="122.23" y="233.6" width="10" height="4.7" fill="#089981"/>
<line x1="141.3" y1="209.6" x2="141.3" y2="236.4" stroke="#089981" stroke-width="1.5"/>
<rect x="136.3" y="221.6" width="10" height="8.8" fill="#089981"/>
<line x1="155.36" y1="210.9" x2="155.36" y2="250" stroke="#089981" stroke-width="1.5"/>
<rect x="150.36" y="214" width="10" height="29" fill="#089981"/>
<line x1="169.42" y1="180" x2="169.42" y2="217.9" stroke="#f23645" stroke-width="1.5"/>
<rect x="164.42" y="212.2" width="10" height="1.8" fill="#f23645"/>
<line x1="183.48" y1="165.2" x2="183.48" y2="204.4" stroke="#089981" stroke-width="1.5"/>
<rect x="178.48" y="174.2" width="10" height="29" fill="#089981"/>
<line x1="197.54" y1="131.7" x2="197.54" y2="176" stroke="#089981" stroke-width="1.5"/>
<rect x="192.54" y="142" width="10" height="34" fill="#089981"/>
<line x1="211.61" y1="113" x2="211.61" y2="151" stroke="#089981" stroke-width="1.5"/>
<rect x="206.61" y="128.6" width="10" height="1.6" fill="#089981"/>
<line x1="225.67" y1="108.8" x2="225.67" y2="143.5" stroke="#f23645" stroke-width="1.5"/>
<rect x="220.67" y="121.8" width="10" height="21.7" fill="#f23645"/>
<line x1="239.73" y1="129" x2="239.73" y2="177" stroke="#f23645" stroke-width="1.5"/>
<rect x="234.73" y="131" width="10" height="21" fill="#f23645"/>
<line x1="253.79" y1="129" x2="253.79" y2="168" stroke="#089981" stroke-width="1.5"/>
<rect x="248.79" y="135.6" width="10" height="14.9" fill="#089981"/>
<line x1="267.85" y1="111" x2="267.85" y2="146" stroke="#089981" stroke-width="1.5"/>
<rect x="262.85" y="121.8" width="10" height="14.6" fill="#089981"/>
<line x1="281.92" y1="109.6" x2="281.92" y2="158" stroke="#f23645" stroke-width="1.5"/>
<rect x="276.92" y="129" width="10" height="18.4" fill="#f23645"/>
<line x1="295.98" y1="148.7" x2="295.98" y2="196" stroke="#f23645" stroke-width="1.5"/>
<rect x="290.98" y="150" width="10" height="33" fill="#f23645"/>
<line x1="310.04" y1="159" x2="310.04" y2="204" stroke="#f23645" stroke-width="1.5"/>
<rect x="305.04" y="188.6" width="10" height="4.9" fill="#f23645"/>
<line x1="324.1" y1="181" x2="324.1" y2="225.6" stroke="#f23645" stroke-width="1.5"/>
<rect x="319.1" y="191" width="10" height="28" fill="#f23645"/>
<line x1="338.16" y1="199" x2="338.16" y2="239" stroke="#089981" stroke-width="1.5"/>
<rect x="333.16" y="202" width="10" height="15" fill="#089981"/>
<line x1="352.23" y1="203.4" x2="352.23" y2="279" stroke="#f23645" stroke-width="1.5"/>
<rect x="347.23" y="214.4" width="10" height="29.4" fill="#f23645"/>
<line x1="366.29" y1="204.7" x2="366.29" y2="262" stroke="#f23645" stroke-width="1.5"/>
<rect x="361.29" y="227.4" width="10" height="16.4" fill="#f23645"/>
<line x1="380.35" y1="230" x2="380.35" y2="277" stroke="#089981" stroke-width="1.5"/>
<rect x="375.35" y="233.5" width="10" height="7.3" fill="#089981"/>
<line x1="394.41" y1="222.6" x2="394.41" y2="263" stroke="#f23645" stroke-width="1.5"/>
<rect x="389.41" y="237.4" width="10" height="13.1" fill="#f23645"/>
<line x1="408.47" y1="216.8" x2="408.47" y2="259" stroke="#089981" stroke-width="1.5"/>
<rect x="403.47" y="220" width="10" height="32.6" fill="#089981"/>
<line x1="422.54" y1="206.4" x2="422.54" y2="237.7" stroke="#f23645" stroke-width="1.5"/>
<rect x="417.54" y="223.4" width="10" height="9.1" fill="#f23645"/>
<line x1="436.6" y1="228" x2="436.6" y2="267" stroke="#089981" stroke-width="1.5"/>
<rect x="431.6" y="229.9" width="10" height="20.1" fill="#089981"/>
<line x1="450.66" y1="224" x2="450.66" y2="274.7" stroke="#f23645" stroke-width="1.5"/>
<rect x="445.66" y="243.4" width="10" height="18.8" fill="#f23645"/>
<line x1="464.72" y1="273.4" x2="464.72" y2="328" stroke="#f23645" stroke-width="1.5"/>
<rect x="459.72" y="275" width="10" height="33" fill="#f23645"/>
<line x1="478.78" y1="257" x2="478.78" y2="314" stroke="#089981" stroke-width="1.5"/>
<rect x="473.78" y="270" width="10" height="33.4" fill="#089981"/>
<line x1="492.85" y1="255" x2="492.85" y2="372.5" stroke="#f23645" stroke-width="1.5"/>
<rect x="487.85" y="277" width="10" height="84.6" fill="#f23645"/>
<line x1="506.91" y1="341.7" x2="506.91" y2="394.7" stroke="#f23645" stroke-width="1.5"/>
<rect x="501.91" y="350" width="10" height="33.7" fill="#f23645"/>
<line x1="520.97" y1="321.7" x2="520.97" y2="389" stroke="#089981" stroke-width="1.5"/>
<rect x="515.97" y="337" width="10" height="49" fill="#089981"/>
<line x1="535.03" y1="322" x2="535.03" y2="354" stroke="#089981" stroke-width="1.5"/>
<rect x="530.03" y="331.6" width="10" height="7.8" fill="#089981"/>
<line x1="549.09" y1="321.7" x2="549.09" y2="351.6" stroke="#089981" stroke-width="1.5"/>
<rect x="544.09" y="325.8" width="10" height="3.2" fill="#089981"/>
<line x1="563.16" y1="328" x2="563.16" y2="385.5" stroke="#f23645" stroke-width="1.5"/>
<rect x="558.16" y="331.6" width="10" height="45.4" fill="#f23645"/>
<line x1="577.22" y1="371" x2="577.22" y2="404.7" stroke="#f23645" stroke-width="1.5"/>
<rect x="572.22" y="381" width="10" height="6" fill="#f23645"/>
<line x1="591.28" y1="371" x2="591.28" y2="417.8" stroke="#f23645" stroke-width="1.5"/>
<rect x="586.28" y="378.6" width="10" height="18.4" fill="#f23645"/>
<line x1="605.34" y1="372" x2="605.34" y2="409.4" stroke="#089981" stroke-width="1.5"/>
<rect x="600.34" y="389" width="10" height="6" fill="#089981"/>
<line x1="619.4" y1="358" x2="619.4" y2="403" stroke="#089981" stroke-width="1.5"/>
<rect x="614.4" y="377" width="10" height="14.7" fill="#089981"/>
<line x1="633.47" y1="364" x2="633.47" y2="393" stroke="#089981" stroke-width="1.5"/>
<rect x="628.47" y="365.6" width="10" height="14.4" fill="#089981"/>
<line x1="647.53" y1="361.7" x2="647.53" y2="380" stroke="#f23645" stroke-width="1.5"/>
<rect x="642.53" y="365.6" width="10" height="8.4" fill="#f23645"/>
<line x1="661.59" y1="376" x2="661.59" y2="435.5" stroke="#f23645" stroke-width="1.5"/>
<rect x="656.59" y="377" width="10" height="29" fill="#f23645"/>
<line x1="675.65" y1="386.5" x2="675.65" y2="419" stroke="#089981" stroke-width="1.5"/>
<rect x="670.65" y="387.8" width="10" height="18.2" fill="#089981"/>
<line x1="689.71" y1="343.5" x2="689.71" y2="395.6" stroke="#089981" stroke-width="1.5"/>
<rect x="684.71" y="347.4" width="10" height="38.3" fill="#089981"/>
<line x1="703.78" y1="323.4" x2="703.78" y2="368" stroke="#f23645" stroke-width="1.5"/>
<rect x="698.78" y="349.5" width="10" height="4.5" fill="#f23645"/>
<line x1="717.84" y1="391" x2="717.84" y2="421.7" stroke="#089981" stroke-width="1.5"/>
<rect x="712.84" y="404" width="10" height="12.5" fill="#089981"/>
<line x1="731.9" y1="396.4" x2="731.9" y2="426.4" stroke="#f23645" stroke-width="1.5"/>
<rect x="726.9" y="399.5" width="10" height="18.3" fill="#f23645"/>
<line x1="745.96" y1="378.7" x2="745.96" y2="419.9" stroke="#f23645" stroke-width="1.5"/>
<rect x="740.96" y="410.5" width="10" height="3.9" fill="#f23645"/>
<line x1="760.02" y1="410.6" x2="760.02" y2="464.6" stroke="#f23645" stroke-width="1.5"/>
<rect x="755.02" y="415" width="10" height="29" fill="#f23645"/>
<line x1="774.09" y1="416.5" x2="774.09" y2="456.4" stroke="#089981" stroke-width="1.5"/>
<rect x="769.09" y="429.6" width="10" height="14.4" fill="#089981"/>
<line x1="788.15" y1="406.8" x2="788.15" y2="466" stroke="#f23645" stroke-width="1.5"/>
<rect x="783.15" y="432.5" width="10" height="32.1" fill="#f23645"/>
<line x1="802.21" y1="460" x2="802.21" y2="504" stroke="#f23645" stroke-width="1.5"/>
<rect x="797.21" y="460" width="10" height="36" fill="#f23645"/>
<line x1="816.27" y1="474" x2="816.27" y2="504" stroke="#089981" stroke-width="1.5"/>
<rect x="811.27" y="479" width="10" height="25" fill="#089981"/>
<line x1="830.33" y1="467.5" x2="830.33" y2="486.5" stroke="#089981" stroke-width="1.5"/>
<rect x="825.33" y="471.9" width="10" height="9.1" fill="#089981"/>
<line x1="844.4" y1="447.7" x2="844.4" y2="477.7" stroke="#089981" stroke-width="1.5"/>
<rect x="839.4" y="453.5" width="10" height="14.9" fill="#089981"/>
<line x1="858.46" y1="422.3" x2="858.46" y2="461.7" stroke="#089981" stroke-width="1.5"/>
<rect x="853.46" y="426" width="10" height="23" fill="#089981"/>
<line x1="872.52" y1="413.5" x2="872.52" y2="432" stroke="#089981" stroke-width="1.5"/>
<rect x="867.52" y="424.3" width="10" height="3.7" fill="#089981"/>
<line x1="886.58" y1="421.7" x2="886.58" y2="441.8" stroke="#f23645" stroke-width="1.5"/>
<rect x="881.58" y="427" width="10" height="5.5" fill="#f23645"/>
<line x1="900.64" y1="426" x2="900.64" y2="458" stroke="#f23645" stroke-width="1.5"/>
<rect x="895.64" y="427" width="10" height="30" fill="#f23645"/>
<line x1="914.71" y1="451.5" x2="914.71" y2="470" stroke="#f23645" stroke-width="1.5"/>
<rect x="909.71" y="460" width="10" height="8.4" fill="#f23645"/>
<line x1="928.77" y1="454.5" x2="928.77" y2="477" stroke="#089981" stroke-width="1.5"/>
<rect x="923.77" y="460" width="10" height="1.5" fill="#089981"/>
<line x1="942.83" y1="429" x2="942.83" y2="460.6" stroke="#089981" stroke-width="1.5"/>
<rect x="937.83" y="436" width="10" height="24.6" fill="#089981"/>
<line x1="956.89" y1="429" x2="956.89" y2="450.6" stroke="#f23645" stroke-width="1.5"/>
<rect x="951.89" y="435" width="10" height="3.75" fill="#f23645"/>
<line x1="970.95" y1="438.75" x2="970.95" y2="486.4" stroke="#f23645" stroke-width="1.5"/>
<rect x="965.95" y="440.85" width="10" height="30.8" fill="#f23645"/>
<line x1="985.02" y1="450.65" x2="985.02" y2="481" stroke="#089981" stroke-width="1.5"/>
<rect x="980.02" y="459.75" width="10" height="11.9" fill="#089981"/>
<line x1="999.08" y1="457" x2="999.08" y2="502.6" stroke="#f23645" stroke-width="1.5"/>
<rect x="994.08" y="461.15" width="10" height="32.2" fill="#f23645"/>
<line x1="1013.14" y1="480.75" x2="1013.14" y2="499.6" stroke="#f23645" stroke-width="1.5"/>
<rect x="1008.14" y="485.5" width="10" height="6.8" fill="#f23645"/>
<text x="74" y="257.6" font-size="17" fill="#3d6df2" textLength="161.4" lengthAdjust="spacingAndGlyphs" fill-opacity="0.85" stroke="#3d6df2" stroke-width="0.35" stroke-opacity="0.8">0.9442071855015792</text>
<line x1="4" y1="491.9" x2="1092" y2="491.9" stroke="#f23645" stroke-width="1.9" stroke-dasharray="1.9 2.72"/>
<line x1="1.65" y1="643.2" x2="1092" y2="643.2" stroke="#089981" stroke-width="4" stroke-dasharray="4.2 9.18"/>
<line x1="1.65" y1="651.8" x2="1092" y2="651.8" stroke="#089981" stroke-width="4" stroke-dasharray="4.2 9.18"/>
<line x1="1.65" y1="677.4" x2="1092" y2="677.4" stroke="#ff2d1a" stroke-width="4" stroke-dasharray="4.2 9.18"/>
</g>
<line x1="4" y1="687.7" x2="1192.5" y2="687.7" stroke="#dfe2ea" stroke-width="1.2"/>
<g clip-path="url(#rsi)">
<rect x="4" y="718.7" width="1088" height="139.4" fill="#f3e6fc"/>
<line x1="4" y1="753" x2="1092" y2="753" stroke="#e6d9ef" stroke-width="1"/>
<line x1="4" y1="823.5" x2="1092" y2="823.5" stroke="#e6d9ef" stroke-width="1"/>
<line x1="28.8" y1="718.7" x2="28.8" y2="858" stroke="#e6dbf0" stroke-width="1"/>
<line x1="183.2" y1="718.7" x2="183.2" y2="858" stroke="#e6dbf0" stroke-width="1"/>
<line x1="309.4" y1="718.7" x2="309.4" y2="858" stroke="#e6dbf0" stroke-width="1"/>
<line x1="478.9" y1="718.7" x2="478.9" y2="858" stroke="#e6dbf0" stroke-width="1"/>
<line x1="619.9" y1="718.7" x2="619.9" y2="858" stroke="#e6dbf0" stroke-width="1"/>
<line x1="759.5" y1="718.7" x2="759.5" y2="858" stroke="#e6dbf0" stroke-width="1"/>
<line x1="900.7" y1="718.7" x2="900.7" y2="858" stroke="#e6dbf0" stroke-width="1"/>
<line x1="1041.8" y1="718.7" x2="1041.8" y2="858" stroke="#e6dbf0" stroke-width="1"/>
<line x1="1.3" y1="718.7" x2="1092" y2="718.7" stroke="#7a7a7a" stroke-width="1.9" stroke-dasharray="7.5 8.85"/>
<line x1="1.3" y1="858.2" x2="1092" y2="858.2" stroke="#7a7a7a" stroke-width="1.9" stroke-dasharray="7.5 8.85"/>
<polyline points="0.68,739.5 14.74,736.5 28.8,733.75 42.86,733.75 56.92,737 70.99,741.25 85.05,742.5 99.11,741.75 113.17,743.75 127.23,746.25 141.3,749.5 155.36,753 169.42,754.5 183.48,750 197.54,745.5 211.61,740 225.67,736.25 239.73,732.5 253.79,728.75 267.85,725.5 281.92,724.5 295.98,727.5 310.04,734.5 324.1,743 338.16,752.5 352.23,761.75 366.29,770.5 380.35,778.75 394.41,788.25 408.47,793.25 422.54,796.25 436.6,798.75 450.66,802 464.72,807 478.78,808 492.85,812.5 506.91,818.25 520.97,820.5 535.03,823.75 549.09,827 563.16,831.25 577.22,834.25 591.28,835 605.34,838 619.4,835.75 633.47,832.5 647.53,833 661.59,835 675.65,835.75 689.71,832 703.78,828.25 717.84,826.25 731.9,825 745.96,825 760.02,827 774.09,827.5 788.15,828.75 802.21,832.5 816.27,837.5 830.33,840.5 844.4,840.5 858.46,837.5 872.52,834.5 886.58,830.75 900.64,829.5 914.71,827.5 928.77,823.75 942.83,819.25 956.89,815 970.95,814.5 985.02,815.5 999.08,818.75 1013.14,821.75" fill="none" stroke="#f23645" stroke-width="1.3" stroke-linejoin="round"/>
<polyline points="0.68,730 14.74,717 28.8,713.75 42.86,730 56.92,767 70.99,754.5 85.05,753.75 99.11,760.75 113.17,758.75 127.23,755.5 141.3,750 155.36,745 169.42,744.25 183.48,725 197.54,713 211.61,707 225.67,718.75 239.73,729.5 253.79,722 267.85,716.25 281.92,743.75 295.98,770 310.04,777 324.1,793.25 338.16,783.75 352.23,808.75 366.29,808.75 380.35,801.25 394.41,811.75 408.47,790 422.54,797.5 436.6,796.25 450.66,817.5 464.72,840 478.78,811.75 492.85,848 506.91,855 520.97,826.75 535.03,823.75 549.09,820.5 563.16,839.25 577.22,842 591.28,846.25 605.34,841.25 619.4,832 633.47,824.5 647.53,828.25 661.59,842.5 675.65,827.5 689.71,800 703.78,804.5 717.84,828.25 731.9,833.75 745.96,832 760.02,844.5 774.09,833 788.15,847.5 802.21,859.5 816.27,846.25 830.33,840.75 844.4,825 858.46,806.75 872.52,805.75 886.58,809.5 900.64,824.5 914.71,830 928.77,824.25 942.83,804.25 956.89,805.75 970.95,825.75 985.02,816.25 999.08,834.5 1013.14,833" fill="none" stroke="#2196f3" stroke-width="3" stroke-linejoin="round" stroke-linecap="round"/>
</g>
<text x="1107" y="96.4" font-size="17" fill="#131722" textLength="51.5" lengthAdjust="spacingAndGlyphs">4.4000</text>
<text x="1107" y="146.9" font-size="17" fill="#131722" textLength="51.5" lengthAdjust="spacingAndGlyphs">4.2000</text>
<text x="1107" y="197.4" font-size="17" fill="#131722" textLength="51.5" lengthAdjust="spacingAndGlyphs">4.0000</text>
<text x="1107" y="247.9" font-size="17" fill="#131722" textLength="51.5" lengthAdjust="spacingAndGlyphs">3.8000</text>
<text x="1107" y="298.3" font-size="17" fill="#131722" textLength="51.5" lengthAdjust="spacingAndGlyphs">3.6000</text>
<text x="1107" y="348.6" font-size="17" fill="#131722" textLength="51.5" lengthAdjust="spacingAndGlyphs">3.4000</text>
<text x="1107" y="398.9" font-size="17" fill="#131722" textLength="51.5" lengthAdjust="spacingAndGlyphs">3.2000</text>
<text x="1107" y="449.3" font-size="17" fill="#131722" textLength="51.5" lengthAdjust="spacingAndGlyphs">3.0000</text>
<text x="1107" y="549.8" font-size="17" fill="#131722" textLength="51.5" lengthAdjust="spacingAndGlyphs">2.6000</text>
<text x="1107" y="600.3" font-size="17" fill="#131722" textLength="51.5" lengthAdjust="spacingAndGlyphs">2.4000</text>
<text x="1106.2" y="759.1" font-size="17" fill="#131722" textLength="62.5" lengthAdjust="spacingAndGlyphs">60.0000</text>
<text x="1106.2" y="829.3" font-size="17" fill="#131722" textLength="62.5" lengthAdjust="spacingAndGlyphs">40.0000</text>
<text x="1107" y="29.3" font-size="16.5" fill="#131722" textLength="29.8" lengthAdjust="spacingAndGlyphs">USD</text>
<path d="M1142.3 21.2l3.4 3.3 3.4-3.3" fill="none" stroke="#131722" stroke-width="1.6"/>
<text x="1107" y="58" font-size="16.5" fill="#131722" textLength="60" lengthAdjust="spacingAndGlyphs">gal (US)</text>
<path d="M1172.6 49.4l3.6 3.4 3.6-3.4" fill="none" stroke="#131722" stroke-width="1.6"/>
<path d="M1091.7 478.8H1182.5a2.5 2.5 0 0 1 2.5 2.5V522.2a2.5 2.5 0 0 1-2.5 2.5H1091.7Z" fill="#f23645"/>
<text x="1106" y="498.7" font-size="17" fill="#ffffff" textLength="52" lengthAdjust="spacingAndGlyphs" font-weight="bold">2.8064</text>
<text x="1106" y="519.6" font-size="16.5" fill="#ffffff" textLength="69.5" lengthAdjust="spacingAndGlyphs" fill-opacity="0.82">08:15:50</text>
<path d="M1091.7 630.9H1166.7a2.5 2.5 0 0 1 2.5 2.5V681.2H1091.7Z" fill="#089981"/>
<rect x="1091.7" y="681.2" width="77.2" height="5.6" fill="#ff2d1a"/>
<text x="1106" y="649.2" font-size="17" fill="#ffffff" textLength="52" lengthAdjust="spacingAndGlyphs" font-weight="bold">2.2050</text>
<text x="1106" y="674.6" font-size="17" fill="#ffffff" textLength="52" lengthAdjust="spacingAndGlyphs" font-weight="bold">2.1752</text>
<text x="28.7" y="901.8" font-size="17" fill="#131722" textLength="16.6" lengthAdjust="spacingAndGlyphs" text-anchor="middle">16</text>
<text x="183" y="901.8" font-size="17" fill="#131722" textLength="30.6" lengthAdjust="spacingAndGlyphs" text-anchor="middle" stroke="#131722" stroke-width="0.55">Jun</text>
<text x="309.7" y="901.8" font-size="17" fill="#131722" textLength="16.6" lengthAdjust="spacingAndGlyphs" text-anchor="middle">14</text>
<text x="477.5" y="901.8" font-size="17" fill="#131722" textLength="25" lengthAdjust="spacingAndGlyphs" text-anchor="middle" stroke="#131722" stroke-width="0.55">Jul</text>
<text x="619.5" y="901.8" font-size="17" fill="#131722" textLength="16.6" lengthAdjust="spacingAndGlyphs" text-anchor="middle">18</text>
<text x="760" y="901.8" font-size="17" fill="#131722" textLength="30" lengthAdjust="spacingAndGlyphs" text-anchor="middle" stroke="#131722" stroke-width="0.55">Aug</text>
<text x="900.3" y="901.8" font-size="17" fill="#131722" textLength="16.6" lengthAdjust="spacingAndGlyphs" text-anchor="middle">15</text>
<text x="1040.8" y="901.8" font-size="17" fill="#131722" textLength="16.6" lengthAdjust="spacingAndGlyphs" text-anchor="middle">29</text>
<g transform="translate(1144.4 896.9)" stroke="#131722" fill="none"><circle r="7.6" stroke-width="1.7"/><line x1="0" y1="8.2" x2="0" y2="11.2" stroke-width="2.4"/><line x1="-5.8" y1="5.8" x2="-7.92" y2="7.92" stroke-width="2.4"/><line x1="-8.2" y1="0" x2="-11.2" y2="0" stroke-width="2.4"/><line x1="-5.8" y1="-5.8" x2="-7.92" y2="-7.92" stroke-width="2.4"/><line x1="-0" y1="-8.2" x2="-0" y2="-11.2" stroke-width="2.4"/><line x1="5.8" y1="-5.8" x2="7.92" y2="-7.92" stroke-width="2.4"/><line x1="8.2" y1="-0" x2="11.2" y2="-0" stroke-width="2.4"/><line x1="5.8" y1="5.8" x2="7.92" y2="7.92" stroke-width="2.4"/></g>
<text x="15.5" y="36.3" font-size="21" fill="#2a2e39" textLength="239.5" lengthAdjust="spacingAndGlyphs">RBOB Gasoline Futures</text>
<text x="262.5" y="36.3" font-size="21" fill="#9598a1">·</text>
<text x="275" y="36.3" font-size="21" fill="#2a2e39" textLength="26" lengthAdjust="spacingAndGlyphs">1D</text>
<text x="307.5" y="36.3" font-size="21" fill="#9598a1">·</text>
<text x="320" y="36.3" font-size="21" fill="#2a2e39" textLength="70" lengthAdjust="spacingAndGlyphs">NYMEX</text>
<text x="396" y="36.3" font-size="21" fill="#9598a1">·</text>
<text x="410" y="36.3" font-size="21" fill="#2a2e39" textLength="126.3" lengthAdjust="spacingAndGlyphs">TradingView</text>
<circle cx="573" cy="28.3" r="11" fill="#089981" fill-opacity="0.17"/>
<circle cx="573" cy="28.3" r="5.5" fill="#089981"/>
<text x="13.75" y="64.6" font-size="17" fill="#50535e" textLength="11.3" lengthAdjust="spacingAndGlyphs">O</text>
<text x="28" y="64.6" font-size="17" fill="#f23645" textLength="55.75" lengthAdjust="spacingAndGlyphs">2.8291</text>
<text x="96.25" y="64.6" font-size="17" fill="#50535e" textLength="10.8" lengthAdjust="spacingAndGlyphs">H</text>
<text x="110" y="64.6" font-size="17" fill="#f23645" textLength="55" lengthAdjust="spacingAndGlyphs">2.8522</text>
<text x="176" y="64.6" font-size="17" fill="#50535e" textLength="8.5" lengthAdjust="spacingAndGlyphs">L</text>
<text x="187.5" y="64.6" font-size="17" fill="#f23645" textLength="56.25" lengthAdjust="spacingAndGlyphs">2.7703</text>
<text x="253.75" y="64.6" font-size="17" fill="#50535e" textLength="10.8" lengthAdjust="spacingAndGlyphs">C</text>
<text x="267.5" y="64.6" font-size="17" fill="#f23645" textLength="56.25" lengthAdjust="spacingAndGlyphs">2.8064</text>
<text x="333.75" y="64.6" font-size="17" fill="#f23645" textLength="66.25" lengthAdjust="spacingAndGlyphs">+0.0057</text>
<text x="407.5" y="64.6" font-size="17" fill="#f23645" textLength="71.25" lengthAdjust="spacingAndGlyphs">(+0.20%)</text>
<rect x="15.6" y="77.6" width="56.4" height="29.8" rx="4" fill="#ffffff" stroke="#d5d8e0" stroke-width="1.2"/>
<path d="M24.6 90.2l5.6 4.6 5.6-4.6" fill="none" stroke="#131722" stroke-width="1.9"/>
<text x="45.6" y="98.7" font-size="17" fill="#131722" textLength="16.4" lengthAdjust="spacingAndGlyphs">11</text>
<rect x="15.6" y="697.6" width="45.2" height="29.8" rx="4" fill="#ffffff" fill-opacity="0.85" stroke="#d5d8e0" stroke-width="1.2"/>
<path d="M24.6 710.2l5.6 4.6 5.6-4.6" fill="none" stroke="#131722" stroke-width="1.9"/>
<text x="45" y="718.7" font-size="17" fill="#131722" textLength="8.2" lengthAdjust="spacingAndGlyphs">2</text>
<rect x="889" y="15.5" width="201" height="126.5" fill="#fdfdfd"/>
<polygon points="990.7,41 1010,43.5 1010,47 989.5,48" fill="url(#fadeR)"/>
<polygon points="997,50.5 1035,57.5 1035,62 996,58" fill="url(#fadeO)"/>
<polygon points="1003,66 1056,73.5 1056,79.5 1004,76.5" fill="url(#fadeC)"/>
<polygon points="909.5,84.4 1001.4,62.6 1003,75.8" fill="#e6dcc2"/>
<polygon points="1001.4,62.6 1005,66.5 1006,75.8 1003,75.8" fill="#9a9488"/>
<polygon points="908.5,84 996,49.5 994.4,57.6" fill="#e5a535"/>
<polygon points="996,49.5 999.6,51 999.6,57.8 994.4,57.6" fill="#d99a2c"/>
<polygon points="907.75,83.6 990,40.4 988.3,47.8" fill="#cf2a3f"/>
<polygon points="990,40.4 991.6,40.7 991.8,47.8 988.3,47.8" fill="#c02036"/>
<text x="891" y="108.8" font-size="15.6" fill="#111111" textLength="108.6" lengthAdjust="spacingAndGlyphs" font-weight="bold">SUNSHINE</text>
<text x="1005.8" y="108.8" font-size="15.6" fill="#1a1a1a" textLength="72.6" lengthAdjust="spacingAndGlyphs">PROFITS</text>
<text x="894.6" y="121.9" font-size="8" fill="#3a2420" textLength="179.4" lengthAdjust="spacingAndGlyphs">Tools for Effective Gold &amp; Silver Investments</text>
</svg>
</body></html>
